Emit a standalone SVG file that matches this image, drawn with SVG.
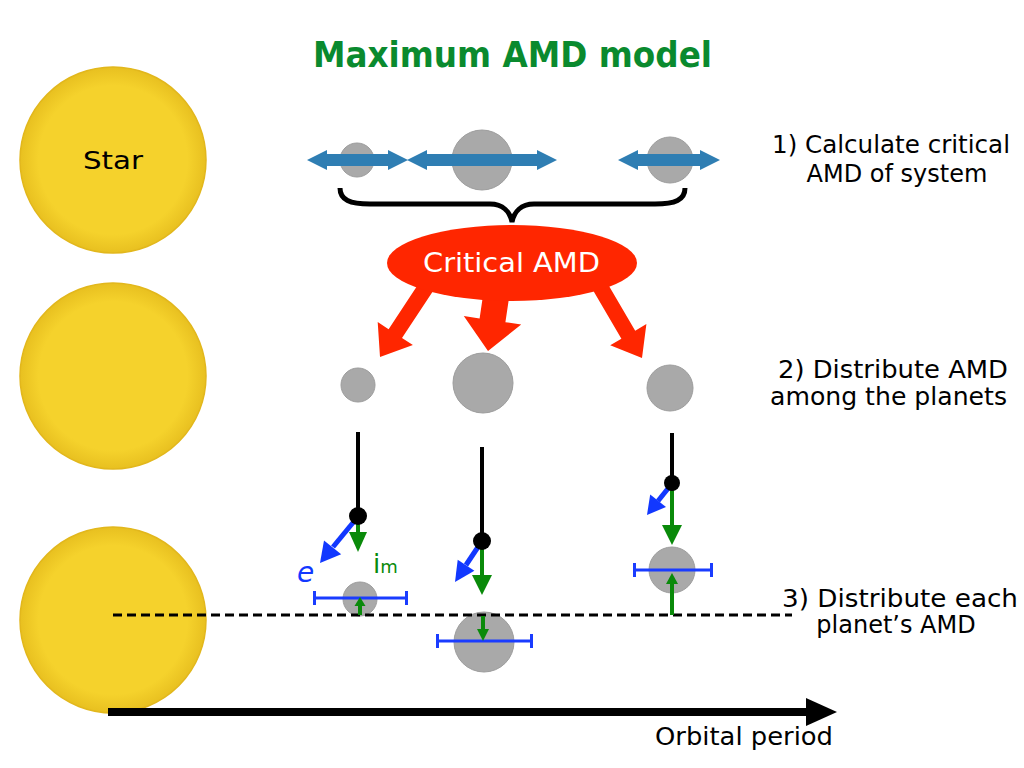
<svg xmlns="http://www.w3.org/2000/svg" width="1024" height="768" viewBox="0 0 1024 768">
<defs>
<radialGradient id="starG" cx="0.5" cy="0.5" r="0.5">
<stop offset="0.8" stop-color="#f5d22c"/>
<stop offset="1" stop-color="#e8c020"/>
</radialGradient>
<style>
.star{fill:url(#starG);stroke:#e2b71c;stroke-width:1.5}
.planet{fill:#a9a9a9;stroke:#9d9d9d;stroke-width:1}
.txt{font-family:"DejaVu Sans","Liberation Sans",sans-serif;fill:#000}
.blueArr{fill:#2f7eb3}
.red{fill:#ff2600}
.bl{stroke:#1238ff;stroke-width:5;fill:none}
.blf{fill:#1238ff}
.gr{stroke:#0a8a0a;stroke-width:4;fill:none}
.grf{fill:#0a8a0a}
.err{stroke:#1a3cff;stroke-width:3;fill:none}
.pend{stroke:#000;stroke-width:4}
</style>
</defs>
<rect width="1024" height="768" fill="#fff"/>

<text class="txt" x="313" y="67" font-size="36" font-weight="bold" style="fill:#0a8a2e" textLength="399" lengthAdjust="spacingAndGlyphs">Maximum AMD model</text>

<g id="star1"><circle class="star" cx="113" cy="160" r="93"/><text class="txt" x="83" y="169" font-size="25" textLength="60" lengthAdjust="spacingAndGlyphs">Star</text></g>
<g id="star2"><circle class="star" cx="113" cy="376" r="93"/></g>
<g id="star3"><circle class="star" cx="113" cy="620" r="93"/></g>

<g id="row1">
<circle class="planet" cx="357" cy="160" r="17"/>
<circle class="planet" cx="482" cy="160" r="30"/>
<circle class="planet" cx="670" cy="160" r="23"/>
<polygon class="blueArr" points="307,160 327,150 327,154 388,154 388,150 408,160 388,170 388,166 327,166 327,170"/>
<polygon class="blueArr" points="407,160 427,150 427,154 537,154 537,150 557,160 537,170 537,166 427,166 427,170"/>
<polygon class="blueArr" points="618,160 638,150 638,154 700,154 700,150 720,160 700,170 700,166 638,166 638,170"/>
</g>

<g id="brace"><path d="M340,188 C340,200 350,204 370,204 L490,204 C503,204 510,212 512,222 C514,212 521,204 534,204 L655,204 C675,204 685,200 685,188" fill="none" stroke="#000" stroke-width="5"/></g>

<g id="critical">
<polygon class="red" points="436.7,285.4 402.0,338.0 412.9,345.1 380,357 377.7,322.1 388.6,329.2 423.3,276.6"/>
<polygon class="red" points="509.9,291.9 505.4,322.2 521.2,324.5 488,351 463.8,316.1 479.6,318.4 484.1,288.1"/>
<polygon class="red" points="591.1,287.0 621.4,338.7 610.2,345.3 642,358 646.4,324.1 635.2,330.7 604.9,279.0"/>
<ellipse class="red" cx="512" cy="263" rx="125" ry="38"/>
<text class="txt" x="423" y="272" font-size="27" style="fill:#fff" textLength="177" lengthAdjust="spacingAndGlyphs">Critical AMD</text>
</g>

<g id="row2">
<circle class="planet" cx="358" cy="385" r="17"/>
<circle class="planet" cx="483" cy="383" r="30"/>
<circle class="planet" cx="670" cy="388" r="23"/>
</g>

<g id="row3">
<circle class="planet" cx="360" cy="599" r="17"/>
<circle class="planet" cx="484" cy="642" r="30"/>
<circle class="planet" cx="672" cy="570" r="23"/>
</g>

<g id="connectors">
<line x1="113" y1="615" x2="792" y2="615" stroke="#000" stroke-width="3" stroke-dasharray="9 5"/>
<line class="pend" x1="358" y1="432" x2="358" y2="516"/>
<line class="gr" x1="358" y1="520" x2="358" y2="533"/>
<polygon class="grf" points="349,532 367,532 358,552"/>
<line class="bl" x1="356" y1="519" x2="333" y2="547"/>
<polygon class="blf" points="341.2,554.3 320,563 324.0,540.5"/>
<circle cx="358" cy="516" r="9" fill="#000"/>
<line class="err" x1="313" y1="598" x2="408" y2="598"/>
<line class="err" x1="314.5" y1="591" x2="314.5" y2="605"/>
<line class="err" x1="406.5" y1="591" x2="406.5" y2="605"/>
<line class="gr" x1="360" y1="615" x2="360" y2="605" stroke-width="3"/>
<polygon class="grf" points="354.5,606 365.5,606 360,597"/>
<line class="pend" x1="482" y1="447" x2="482" y2="541"/>
<line class="gr" x1="482" y1="545" x2="482" y2="576"/>
<polygon class="grf" points="472,575 492,575 482,595"/>
<line class="bl" x1="480" y1="544" x2="466" y2="565"/>
<polygon class="blf" points="474.4,570.8 455,582 457.7,559.8"/>
<circle cx="482" cy="541" r="9" fill="#000"/>
<line class="err" x1="436" y1="641" x2="533" y2="641"/>
<line class="err" x1="437.5" y1="634" x2="437.5" y2="648"/>
<line class="err" x1="531.5" y1="634" x2="531.5" y2="648"/>
<line class="gr" x1="483" y1="616" x2="483" y2="630" stroke-width="3"/>
<polygon class="grf" points="477,629 489,629 483,641"/>
<line class="pend" x1="672" y1="433" x2="672" y2="483"/>
<line class="gr" x1="672" y1="487" x2="672" y2="526"/>
<polygon class="grf" points="662,525 682,525 672,545"/>
<line class="bl" x1="670" y1="486" x2="658" y2="501"/>
<polygon class="blf" points="666,507 647,515 650.2,494.6"/>
<circle cx="672" cy="483" r="8" fill="#000"/>
<line class="err" x1="633" y1="570" x2="713" y2="570"/>
<line class="err" x1="634.5" y1="563" x2="634.5" y2="577"/>
<line class="err" x1="711.5" y1="563" x2="711.5" y2="577"/>
<line class="gr" x1="672" y1="615" x2="672" y2="583" stroke-width="3"/>
<polygon class="grf" points="666,584 678,584 672,573"/>
<line x1="108" y1="712" x2="808" y2="712" stroke="#000" stroke-width="8"/>
<polygon points="806,698 837,712 806,726" fill="#000"/>
</g>

<g id="labels">
<text x="297" y="582" font-family="DejaVu Sans, sans-serif" font-size="28" font-style="italic" fill="#1238ff">e</text>
<text x="373" y="573" font-family="DejaVu Sans, sans-serif" font-size="26" fill="#0a8a0a">i<tspan font-size="18">m</tspan></text>
<text class="txt" x="772" y="153" font-size="24" textLength="238" lengthAdjust="spacingAndGlyphs">1) Calculate critical</text>
<text class="txt" x="897" y="182" font-size="24" text-anchor="middle">AMD of system</text>
<text class="txt" x="778" y="378" font-size="24" textLength="230" lengthAdjust="spacingAndGlyphs">2) Distribute AMD</text>
<text class="txt" x="770" y="405" font-size="24" textLength="237" lengthAdjust="spacingAndGlyphs">among the planets</text>
<text class="txt" x="782" y="607" font-size="24" textLength="236" lengthAdjust="spacingAndGlyphs">3) Distribute each</text>
<text class="txt" x="896" y="633" font-size="24" text-anchor="middle">planet’s AMD</text>
<text class="txt" x="655" y="745" font-size="24" textLength="178" lengthAdjust="spacingAndGlyphs">Orbital period</text>
</g>
</svg>
